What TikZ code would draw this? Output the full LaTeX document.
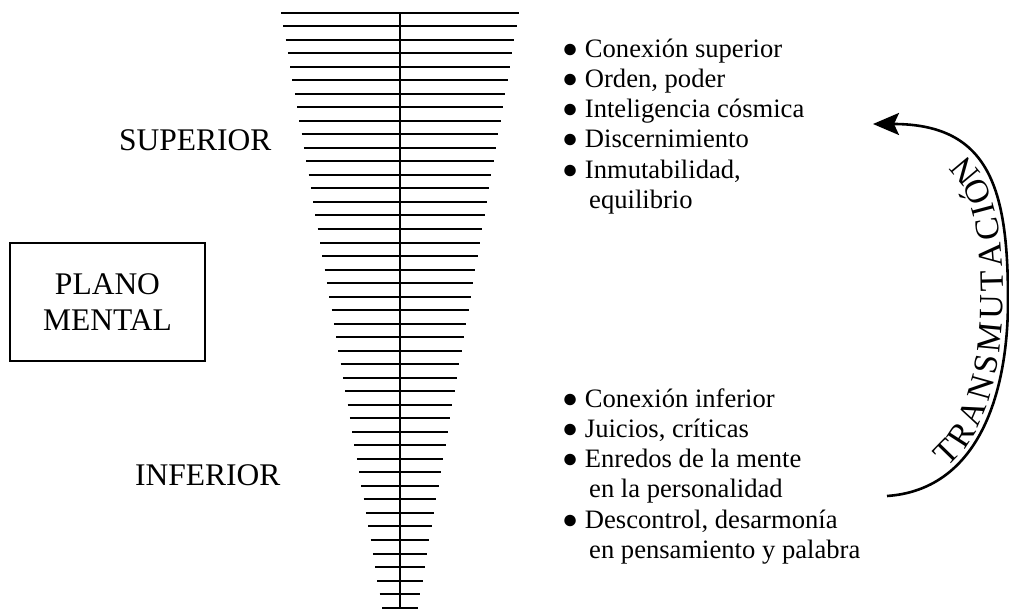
\documentclass[tikz,border=0pt]{standalone}
\usepackage{fontspec}
\setmainfont{Liberation Serif}
\usetikzlibrary{arrows.meta,decorations.text}
\newcommand{\listfont}{\fontsize{26.6}{30.2}\selectfont}
\newcommand{\labelfont}{\fontsize{31.5}{36.7}\selectfont}
\newcommand{\arcfont}{\fontsize{34}{34}\selectfont}
\tikzset{
  rung/.style={line width=2pt},
  planelabel/.style={anchor=base west,inner sep=0pt,font=\labelfont},
  itemlist/.style={anchor=base west,inner sep=0pt,align=left,font=\listfont},
  transarc/.style={line width=2.6pt,-{Stealth[length=26pt,width=22pt,inset=5pt]}}
}
\begin{document}
\begin{tikzpicture}[x=1pt,y=-1pt]
    \useasboundingbox (0,0) rectangle (1009,609);
    % ladder of the mental plane
    \draw[rung] (400,12.7) coordinate (ladtop) -- (400,609) coordinate (ladbot);
    \foreach \i in {0,...,44}
        \draw[rung] ({281+2.2955*\i},{12.7+13.52*\i})--({519-2.2955*\i},{12.7+13.52*\i});
    \node[draw,line width=1.6pt,minimum width=195pt,minimum height=118pt,align=center,font=\labelfont]
        (plano) at (107.5,302) {PLANO\\MENTAL};
    \node[planelabel] (sup) at (119,150.7) {SUPERIOR};
    \node[planelabel] (inf) at (135,485) {INFERIOR};
    % lists (anchored at the baseline of their last line)
    \node[itemlist] (listsup) at (562,208.3) {● Conexión superior\\● Orden, poder\\● Inteligencia cósmica\\
        ● Discernimiento\\● Inmutabilidad,\\\hspace*{27pt}equilibrio};
    \node[itemlist] (listinf) at (562,558.3) {● Conexión inferior\\● Juicios, críticas\\● Enredos de la mente\\
        \hspace*{27pt}en la personalidad\\● Descontrol, desarmonía\\\hspace*{27pt}en pensamiento y palabra};
    % arrow of transmutation
    \coordinate (arclow) at (887,496);
    \coordinate (arcright) at (1008,300);
    \coordinate (arctop) at (873,124);
    \draw[transarc,postaction={decorate,decoration={text along path,
        text={|\arcfont|TRANSMUTACIÓN},raise=5pt,
        text align={fit to path,left indent=70pt,right indent=102pt}}}]
        (arclow) .. controls (975,490) and (1008,400) .. (arcright)
        .. controls (1008,190) and (990,124) .. (arctop);
\end{tikzpicture}
\end{document}
